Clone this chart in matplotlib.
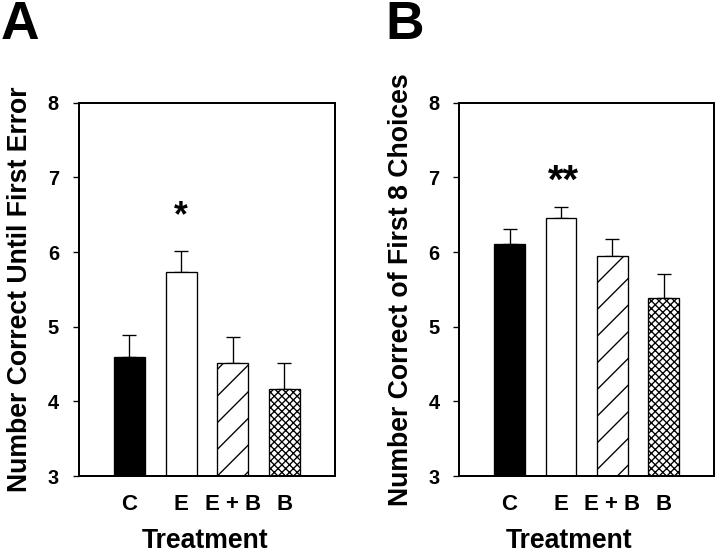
import matplotlib
matplotlib.use("Agg")
from matplotlib import pyplot as plt

# data
treatments = ["C", "E", "E + B", "B"]
until_error_mean = [4.59, 5.73, 4.52, 4.16]
until_error_sem = [0.30, 0.29, 0.34, 0.36]
first8_mean = [6.11, 6.45, 5.95, 5.39]
first8_sem = [0.20, 0.15, 0.23, 0.32]

# significance marks: (bar index, label, y position in data units, size)
stars_a = (1, "*", 6.34, 16)
stars_b = (1.05, "**", 6.80, 18)

# style
FACE = ["black", "white", "white", "white"]
HATCH = [None, None, "//", "xxxxxxx"]
FONT = "Liberation Sans"

plt.rcParams["font.family"] = [FONT, "DejaVu Sans"]
plt.rcParams["font.weight"] = "bold"
plt.rcParams["hatch.linewidth"] = 0.6

DPI = 160
fig = plt.figure(figsize=(720 / DPI, 553 / DPI), dpi=DPI)


def draw_panel(ax, means, sems, ylabel, stars, xlabel_x):
    x = list(range(len(treatments)))
    bars = ax.bar(x, means, width=0.6, bottom=0, color=FACE,
                  edgecolor="black", linewidth=0.6, zorder=2)
    for b, h in zip(bars, HATCH):
        if h:
            b.set_hatch(h)
    ax.errorbar(x, means, yerr=[[0] * len(sems), sems], fmt="none",
                ecolor="black", elinewidth=0.6, capsize=3.3, capthick=0.6,
                zorder=1)
    i, s, y, size = stars
    ax.text(i, y, s, ha="center", va="baseline", fontsize=size,
            fontweight="bold")

    ax.set_ylim(3, 8)
    ax.set_xlim(-0.98, 3.98)
    ax.set_yticks([3, 4, 5, 6, 7, 8])
    ax.set_xticks(x)
    ax.set_xticklabels(treatments)
    ax.tick_params(axis="y", direction="out", length=2.9, width=0.6,
                   pad=6, labelsize=9)
    ax.tick_params(axis="x", length=0, pad=8, labelsize=10)
    for sp in ax.spines.values():
        sp.set_linewidth(0.9)

    ax.set_ylabel(ylabel, fontsize=12, fontweight="bold")
    ax.yaxis.set_label_coords(-0.178, 0.5)
    ax.set_xlabel("Treatment", fontsize=12, fontweight="bold")
    ax.xaxis.set_label_coords(xlabel_x, -0.139)
    ax.xaxis.label.set_va("top")


ax_a = fig.add_axes([78.7 / 720, 77 / 553, 256.3 / 720, 373.3 / 553])
draw_panel(ax_a, until_error_mean, until_error_sem,
           "Number Correct Until First Error", stars_a, 0.493)

ax_b = fig.add_axes([459.3 / 720, 77 / 553, 254.7 / 720, 373.3 / 553])
draw_panel(ax_b, first8_mean, first8_sem,
           "Number Correct of First 8 Choices", stars_b, 0.431)

fig.text(1 / 720, 1 - 0 / 553, "A", fontsize=24, fontweight="bold",
         ha="left", va="top")
fig.text(385 / 720, 1 - 0 / 553, "B", fontsize=24, fontweight="bold",
         ha="left", va="top")

fig.savefig("out.png", dpi=DPI)
